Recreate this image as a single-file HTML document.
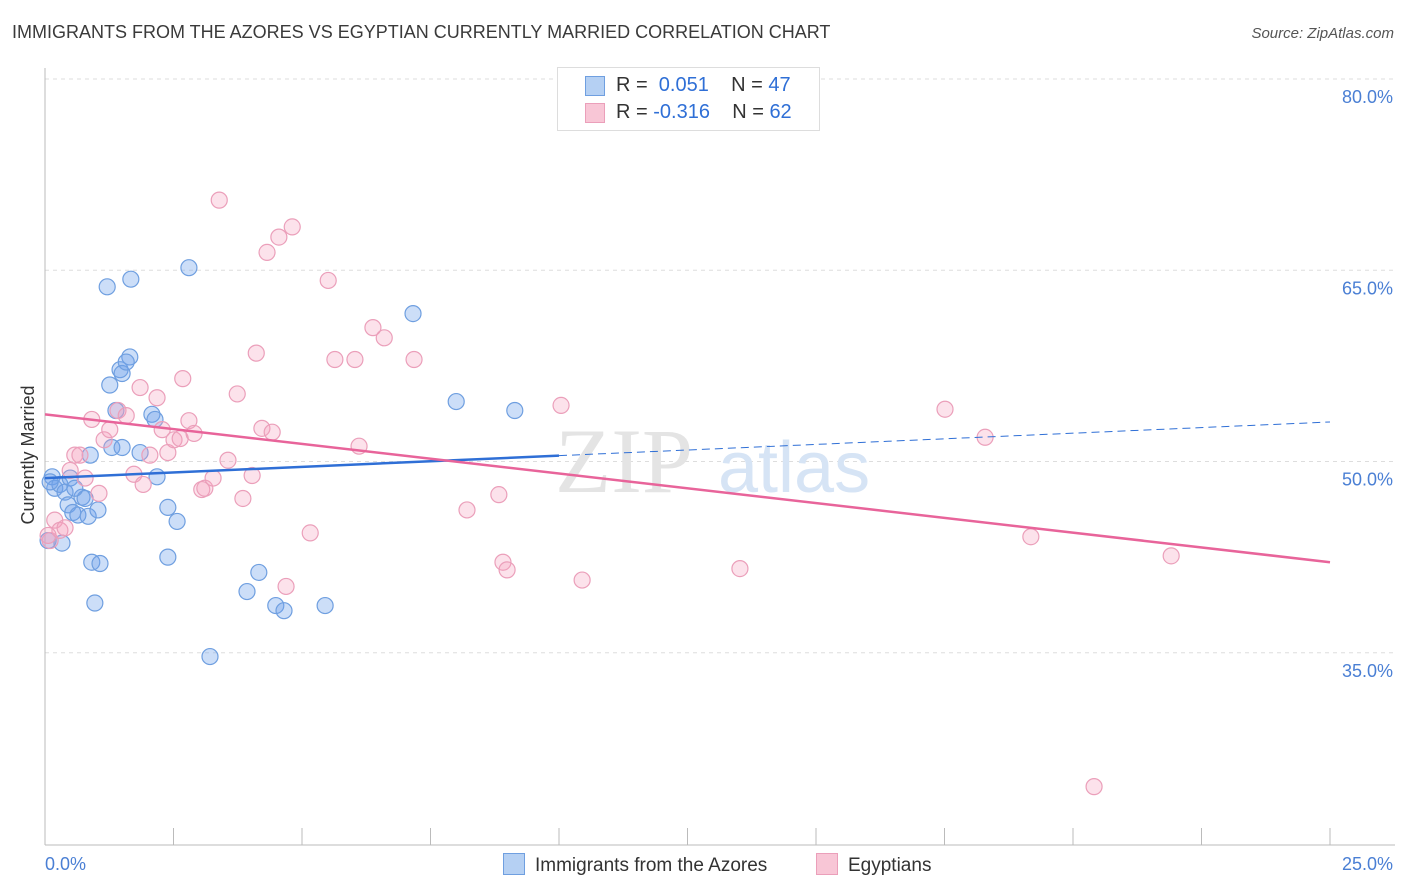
<!DOCTYPE html>
<html><head><meta charset="utf-8"><style>
body{margin:0;background:#fff;font-family:"Liberation Sans",sans-serif;}
#wrap{position:relative;width:1406px;height:892px;overflow:hidden;}
.t{position:absolute;white-space:nowrap;}
</style></head><body>
<div id="wrap">
<div class="t" style="left:12px;top:22px;font-size:18px;color:#3a3a3a;">IMMIGRANTS FROM THE AZORES VS EGYPTIAN CURRENTLY MARRIED CORRELATION CHART</div>
<div class="t" style="right:12px;top:25px;font-size:15px;color:#555;font-style:italic;">Source: ZipAtlas.com</div>
<svg id="svg" width="1406" height="892" style="position:absolute;left:0;top:0"></svg>
</div>
<script>
const blueX=[0.14,0.19,0.29,0.39,0.49,0.33,0.06,0.45,0.54,0.64,0.72,0.78,0.84,1.03,0.91,1.07,0.97,0.88,1.21,1.67,1.26,1.46,1.50,1.65,1.58,1.38,1.30,1.50,1.85,2.08,2.14,2.18,2.39,2.57,2.39,2.80,3.21,3.93,4.16,4.49,4.65,5.45,7.16,8.00,9.14,0.10,0.58];
const blueY=[48.8,47.9,48.2,47.6,48.7,43.6,43.8,46.6,46.0,45.8,47.2,47.1,45.7,46.2,42.1,42.0,38.9,50.5,63.7,64.3,56.0,57.2,56.9,58.2,57.8,54.0,51.1,51.1,50.7,53.7,53.3,48.8,46.4,45.3,42.5,65.2,34.7,39.8,41.3,38.7,38.3,38.7,61.6,54.7,54.0,48.4,47.9];
const pinkX=[0.10,0.19,0.29,0.39,0.49,0.58,0.68,0.78,0.91,1.05,1.15,1.26,1.42,1.58,1.73,1.85,1.91,2.04,2.18,2.28,2.39,2.51,2.63,2.68,2.80,2.90,3.05,3.11,3.27,3.39,3.56,3.74,3.85,4.03,4.11,4.22,4.32,4.42,4.55,4.69,4.81,5.16,5.51,5.64,6.03,6.11,6.38,6.60,7.18,8.21,8.83,8.91,8.99,10.04,10.45,13.52,17.51,18.29,19.18,21.91,20.41,0.06];
const pinkY=[43.8,45.4,44.6,44.8,49.3,50.5,50.5,48.7,53.3,47.5,51.7,52.5,54.0,53.6,49.0,55.8,48.2,50.5,55.0,52.5,50.7,51.7,51.8,56.5,53.2,52.2,47.8,47.9,48.7,70.5,50.1,55.3,47.1,48.9,58.5,52.6,66.4,52.3,67.6,40.2,68.4,44.4,64.2,58.0,58.0,51.2,60.5,59.7,58.0,46.2,47.4,42.1,41.5,54.4,40.7,41.6,54.1,51.9,44.1,42.6,24.5,44.2];
const trendStart=[48.7,53.7];
const trendEnd=[53.1,42.1];
const yTicks=[80,65,50,35];
const xTicks=[0,2.5,5,7.5,10,12.5,15,17.5,20,22.5,25];
const ns="http://www.w3.org/2000/svg";
const svg=document.getElementById('svg');
const X=v=>45+v/25*1285;
const Y=v=>79+(80-v)*12.75;
function mk(tag,a){const e=document.createElementNS(ns,tag);for(const k in a)e.setAttribute(k,a[k]);svg.appendChild(e);return e;}
// grid
yTicks.forEach(v=>{
 const l=mk('line',{x1:45,x2:1395,y1:Y(v),y2:Y(v),stroke:'#dddddd','stroke-dasharray':'4,4'});
 
 
 const t=mk('text',{x:1393,y:Y(v)+24,'text-anchor':'end','font-size':18,fill:'#4a7fd4'});
 t.textContent=v.toFixed(1)+'%';
 
 
});
let ax=mk('line',{x1:45,x2:45,y1:68,y2:845,stroke:'#bbb'});


let bx=mk('line',{x1:45,x2:1395,y1:845,y2:845,stroke:'#bbb'});


xTicks.forEach(v=>{
 const l=mk('line',{x1:X(v),x2:X(v),y1:828,y2:845,stroke:'#bbb'});
 
 
});
[[0,'start'],[25,'end']].forEach(([v,a])=>{
 const t=mk('text',{x:v==0?45:1393,y:870,'text-anchor':a,'font-size':18,fill:'#4a7fd4'});
 t.textContent=v.toFixed(1)+'%';
 
 
});
// watermark
let w=mk('text',{x:555,y:492,'font-size':92,fill:'#e4e4e4','font-family':'Liberation Serif'});w.textContent='ZIP';


let w2=mk('text',{x:718,y:492,'font-size':72,fill:'#d6e4f5'});w2.textContent='atlas';


// y title
let yt=mk('text',{x:34,y:455,'font-size':18,fill:'#333','text-anchor':'middle',transform:'rotate(-90 34 455)'});yt.textContent='Currently Married';


// points
blueX.forEach((x,i)=>{
 const c=mk('circle',{cx:X(x),cy:Y(blueY[i]),r:8,fill:'rgba(110,160,235,0.35)',stroke:'#6f9fe0','stroke-width':1.2});
 
 
});
pinkX.forEach((x,i)=>{
 const c=mk('circle',{cx:X(x),cy:Y(pinkY[i]),r:8,fill:'rgba(245,160,190,0.3)',stroke:'#eb9fba','stroke-width':1.2});
 
 
});
// trends
const bAt=x=>trendStart[0]+(trendEnd[0]-trendStart[0])*x/25;
let b1=mk('line',{x1:X(0),y1:Y(bAt(0)),x2:X(10),y2:Y(bAt(10)),stroke:'#2f6fd6','stroke-width':2.5});


let b2=mk('line',{x1:X(10),y1:Y(bAt(10)),x2:X(25),y2:Y(bAt(25)),stroke:'#2f6fd6','stroke-width':1,'stroke-dasharray':'8,5'});


let p1=mk('line',{x1:X(0),y1:Y(trendStart[1]),x2:X(25),y2:Y(trendEnd[1]),stroke:'#e8649a','stroke-width':2.5});


</script>
<div class="t" style="left:557px;top:67px;width:261px;height:62px;border:1px solid #ddd;background:#fff;font-size:20px;">
 <div style="position:absolute;left:27px;top:8px;width:18px;height:18px;background:#b5d0f3;border:1px solid #6f9fe0"></div>
 <div style="position:absolute;left:58px;top:6px;color:#333">R = &nbsp;<span style="color:#2f6fd6">0.051</span>&nbsp;&nbsp;&nbsp; N = <span style="color:#2f6fd6">47</span></div>
 <div style="position:absolute;left:27px;top:35px;width:18px;height:18px;background:#f8c6d6;border:1px solid #eb9fba"></div>
 <div style="position:absolute;left:58px;top:33px;color:#333">R = <span style="color:#2f6fd6">-0.316</span>&nbsp;&nbsp;&nbsp; N = <span style="color:#2f6fd6">62</span></div>
</div>
<div class="t" style="left:503px;top:853px;font-size:19px;color:#333;">
 <span style="display:inline-block;width:20px;height:20px;background:#b5d0f3;border:1px solid #6f9fe0;vertical-align:-4px;margin-right:10px"></span>Immigrants from the Azores</div>
<div class="t" style="left:816px;top:853px;font-size:19px;color:#333;">
 <span style="display:inline-block;width:20px;height:20px;background:#f8c6d6;border:1px solid #eb9fba;vertical-align:-4px;margin-right:10px"></span>Egyptians</div>
</body></html>
